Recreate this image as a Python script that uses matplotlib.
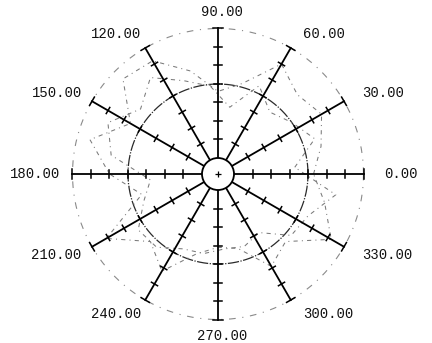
import numpy as np
import matplotlib
matplotlib.use("Agg")
import matplotlib.pyplot as plt

# Angular grid (degrees) and its labels
spoke_angles = [0, 30, 60, 90, 120, 150, 180, 210, 240, 270, 300, 330]
spoke_labels = ["0.00", "30.00", "60.00", "90.00", "120.00", "150.00",
                "180.00", "210.00", "240.00", "270.00", "300.00", "330.00"]

# Radial scale
r_ticks = [1, 2, 3, 4, 5, 6, 7]
r_max = 7
r_mid = 4

# Measured trace, two sweeps around the circle (angle in degrees, radius)
sweep1_theta = [0, 15, 30, 45, 60, 75, 90, 105, 120, 135, 150, 165, 180,
                195, 210, 225, 240, 255, 270, 285, 300, 315, 330, 345, 360]
sweep1_r = [4.3, 4.9, 5.6, 5.2, 6.0, 4.2, 3.6, 4.9, 6.2, 6.4, 4.6, 6.3, 5.0,
            3.4, 6.1, 4.3, 5.2, 3.6, 3.1, 3.3, 4.9, 4.3, 6.2, 5.1, 4.3]
sweep2_theta = [5, 20, 35, 50, 65, 80, 95, 110, 125, 140, 155, 170, 185,
                200, 215, 230, 245, 260, 275, 290, 305, 320, 335, 350, 365]
sweep2_r = [3.3, 4.7, 4.0, 3.5, 4.4, 2.8, 3.9, 4.5, 5.5, 4.6, 5.7, 5.0, 2.8,
            3.4, 4.4, 4.3, 3.6, 3.5, 3.2, 3.3, 3.0, 4.3, 4.5, 5.6, 3.3]

HUB = 0.865  # radius of the central hub, in tick units


def to_xy(theta_deg, r):
    t = np.radians(np.asarray(theta_deg, dtype=float))
    rr = HUB + np.asarray(r, dtype=float)
    return rr * np.cos(t), rr * np.sin(t)


fig = plt.figure(figsize=(4.32, 3.43), dpi=100)
ax = fig.add_axes([0, 0, 1, 1])
ax.set_xlim(-218 / 18.5, (432 - 218) / 18.5)
ax.set_ylim(-169 / 18.5, 174 / 18.5)
ax.axis("off")

# Circles
phi = np.linspace(0, 360, 721)
x, y = to_xy(phi, np.full_like(phi, r_max))
ax.plot(x, y, color="#8a8a8a", lw=0.8, ls=(0, (6, 6, 1, 6)), zorder=1)
x, y = to_xy(phi, np.full_like(phi, r_mid))
ax.plot(x, y, color="#2a2a2a", lw=0.9, ls=(0, (9, 1.2, 1, 1.2)), zorder=1)

# Data trace
for th, rv in ((sweep1_theta, sweep1_r), (sweep2_theta, sweep2_r)):
    x, y = to_xy(th, rv)
    ax.plot(x, y, color="#7a7a7a", lw=0.75, ls=(0, (4, 4, 1, 4)), zorder=2)

# Spokes with ticks
for a in spoke_angles:
    t = np.radians(a)
    c, s = np.cos(t), np.sin(t)
    x0, y0 = to_xy(a, 0)
    x1, y1 = to_xy(a, r_max)
    ax.plot([x0, x1], [y0, y1], color="black", lw=1.3, zorder=3)
    for rt in r_ticks:
        half = 0.26 if rt == r_max else 0.19
        xt, yt = to_xy(a, rt)
        ax.plot([xt - half * s, xt + half * s], [yt + half * c, yt - half * c],
                color="black", lw=1.1, zorder=3)

# Hub
hub = plt.Circle((0, 0), HUB, facecolor="white", edgecolor="black", lw=1.3, zorder=4)
ax.add_patch(hub)
ax.plot([0], [0], marker="+", color="black", ms=4, mew=0.9, zorder=5)

# Angle labels
R_LAB = 162 / 18.5
for a, lab in zip(spoke_angles, spoke_labels):
    t = np.radians(a)
    c, s = np.cos(t), np.sin(t)
    if c > 0.1:
        ha = "left"
    elif c < -0.1:
        ha = "right"
    else:
        ha = "center"
    ax.text(R_LAB * c + 4 / 18.5, R_LAB * s, lab, ha=ha, va="center",
            family="Liberation Mono", fontsize=10, color="#111111")

fig.savefig("out.png", dpi=100)
